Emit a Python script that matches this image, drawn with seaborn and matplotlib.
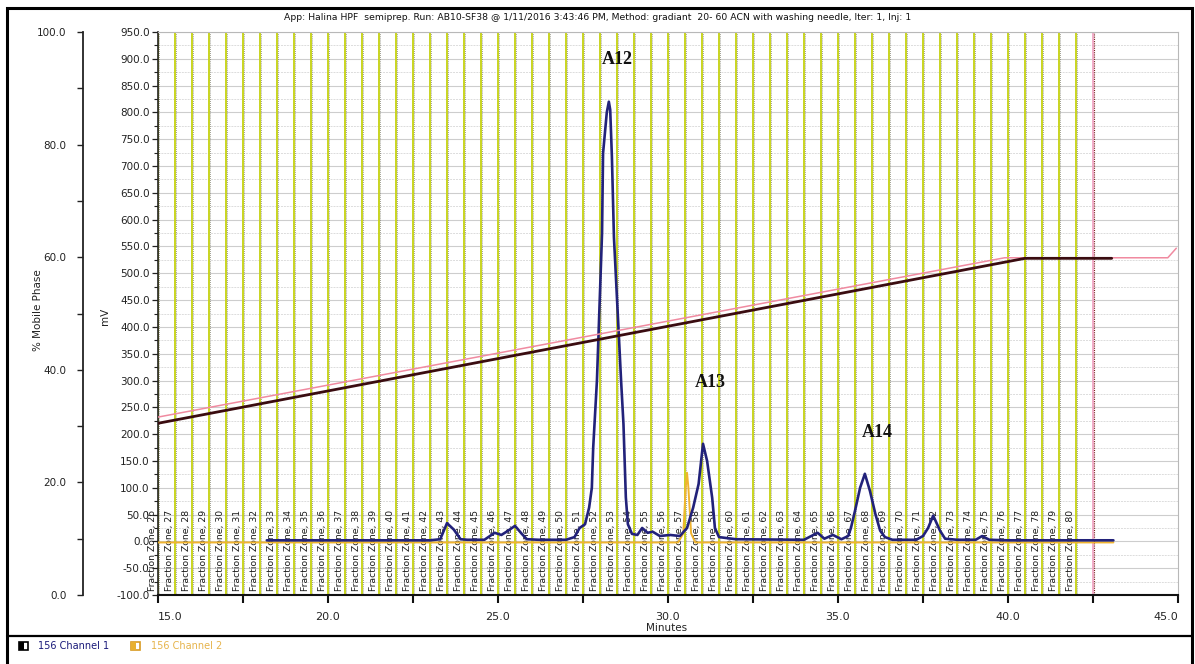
import matplotlib
matplotlib.use('Agg')
import matplotlib.pyplot as plt
import seaborn as sns
import pandas as pd
from matplotlib.patches import Rectangle
from matplotlib.lines import Line2D
from matplotlib.ticker import MultipleLocator, FixedLocator, FuncFormatter

sns.set_style('white')
plt.rcParams['font.family'] = ['DejaVu Sans']

# ---------------- data ----------------
title = ("App: Halina HPF  semiprep. Run: AB10-SF38 @ 1/11/2016 3:43:46 PM, "
         "Method: gradiant  20- 60 ACN with washing needle, Iter: 1, Inj: 1")

ch1_min = [18.2, 23.0, 23.3, 23.5, 23.7, 23.9, 24.1, 24.6, 24.9, 25.1, 25.3,
           25.5, 25.7, 25.85, 26.2, 27.0, 27.25, 27.4, 27.56, 27.68, 27.76,
           27.8, 27.91, 28.06, 28.09, 28.2, 28.26, 28.3, 28.35, 28.41, 28.62,
           28.69, 28.76, 28.82, 28.94, 29.1, 29.24, 29.4, 29.55, 29.76, 30.06,
           30.35, 30.56, 30.74, 30.9, 31.03, 31.15, 31.3, 31.38, 31.5, 32.0,
           34.0, 34.4, 34.6, 34.85, 35.1, 35.3, 35.38, 35.5, 35.65, 35.79,
           35.94, 36.1, 36.24, 36.38, 36.6, 37.3, 37.5, 37.65, 37.8, 38.0,
           38.15, 38.5, 39.05, 39.24, 39.45, 40.0, 43.1]
ch1_mv = [2, 2, 4, 34, 22, 4, 3, 3, 16, 12, 20,
          29, 14, 4, 3, 3, 8, 25, 32, 63, 100,
          175, 300, 575, 724, 800, 820, 805, 717, 567, 300,
          219, 82, 32, 14, 12, 25, 16, 18, 10, 12,
          10, 25, 63, 107, 182, 150, 81, 25, 8, 4,
          3, 16, 5, 12, 4, 10, 25, 57, 100, 126,
          94, 51, 20, 8, 3, 3, 10, 25, 48, 20,
          5, 3, 3, 10, 3, 2, 2]

ch2_min = [15.0, 30.3, 30.45, 30.52, 30.56, 30.6, 30.68, 30.8, 43.1]
ch2_mv = [-2, -2, 15, 100, 128, 100, 15, -2, -2]

grad_actual_min = [15.0, 40.5, 43.05]
grad_actual_pct = [30.5, 59.8, 59.8]
grad_prog_min = [15.0, 39.9, 44.7, 44.95]
grad_prog_pct = [31.6, 59.9, 59.9, 61.6]

zone_numbers = list(range(26, 81))
zone_start_min = 15.0
zone_width_min = 0.5
collection_end_min = 42.5

peak_labels = ['A12', 'A13', 'A14']
peak_label_min = [28.5, 31.24, 36.15]
peak_label_mv = [898, 296, 203]

legend_labels = ['156 Channel 1', '156 Channel 2']

# ---------------- figure ----------------
W, H = 1195, 664
fig = plt.figure(figsize=(W / 100, H / 100), dpi=100)
fig.patch.set_facecolor('white')

def fx(px):
    return px / W

def fy(py):
    return 1 - py / H

ax = fig.add_axes([fx(158), fy(595), fx(1178) - fx(158), fy(32) - fy(595)])
ax.set_xlim(15.0, 45.0)
ax.set_ylim(-100, 950)

# grid
ax.yaxis.set_major_locator(MultipleLocator(50))
ax.yaxis.set_minor_locator(MultipleLocator(25))
ax.yaxis.set_major_formatter(FuncFormatter(lambda v, p: f"{v:.1f}"))
ax.grid(which='major', axis='y', color='#cdcdcd', lw=0.8)
ax.grid(which='minor', axis='y', color='#dcdcdc', lw=0.7, ls=(0, (2, 1)))
ax.grid(which='both', axis='x', visible=False)
ax.set_axisbelow(True)

# fraction zone boundaries
bounds = [zone_start_min + i * zone_width_min for i in range(len(zone_numbers))]
for b in bounds:
    ax.axvline(b, color='#c8d420', lw=1.4, zorder=1)
    ax.axvline(b + 0.035, color='#4a4a30', lw=0.5, ls=(0, (1, 2)), zorder=1)
ax.axvline(collection_end_min, color='#f0a0c0', lw=1.2, zorder=1)
ax.axvline(collection_end_min + 0.02, color='#7a2020', lw=0.8, ls=(0, (1, 1)), zorder=1)

for z, b in zip(zone_numbers, bounds):
    ax.text(b - 0.17, -93, f"Fraction Zone, {z}", rotation=90, ha='center',
            va='bottom', fontsize=6.7, color='#1a1a1a', clip_on=False, zorder=2)

# chromatogram traces
df1 = pd.DataFrame({'min': ch1_min, 'mV': ch1_mv})
df2 = pd.DataFrame({'min': ch2_min, 'mV': ch2_mv})
sns.lineplot(data=df2, x='min', y='mV', ax=ax, color='#f0b430', lw=1.4,
             estimator=None, sort=False, zorder=3)
sns.lineplot(data=df1, x='min', y='mV', ax=ax, color='#22227a', lw=1.9,
             estimator=None, sort=False, zorder=4)

for lab, t, v in zip(peak_labels, peak_label_min, peak_label_mv):
    ax.text(t, v, lab, ha='center', va='center', fontsize=13, fontweight='bold',
            family='Liberation Serif', color='#111111', zorder=6)

# axes styling
ax.set_xlabel('')
ax.set_ylabel('')
for s in ['top', 'right']:
    ax.spines[s].set_color('#b8b8b8')
    ax.spines[s].set_linewidth(0.8)
ax.spines['left'].set_color('#222222')
ax.spines['left'].set_linewidth(1.2)
ax.spines['bottom'].set_color('#111111')
ax.spines['bottom'].set_linewidth(1.5)

ax.xaxis.set_major_locator(FixedLocator([15, 20, 25, 30, 35, 40, 45]))
ax.xaxis.set_minor_locator(FixedLocator([17.5, 22.5, 27.5, 32.5, 37.5, 42.5]))
ax.xaxis.set_major_formatter(FuncFormatter(lambda v, p: f"{v:.1f}"))
ax.tick_params(axis='x', which='both', direction='out', length=6, width=1.5,
               color='#111111', labelsize=8, pad=6, bottom=True)
ax.tick_params(axis='y', which='major', direction='out', length=4, width=0.9,
               labelsize=7.5, pad=2, left=True, colors='#222222')
ax.tick_params(axis='y', which='minor', direction='out', length=3, width=0.8,
               left=True, color='#222222')
fig.canvas.draw()
xl = ax.get_xticklabels()
xl[0].set_horizontalalignment('left')
xl[-1].set_horizontalalignment('right')

# % mobile phase axis
axp = ax.twinx()
axp.set_ylim(0, 100)
axp.yaxis.set_ticks_position('left')
axp.yaxis.set_label_position('left')
axp.spines['left'].set_position(('outward', 54))
axp.spines['left'].set_visible(True)
axp.spines['left'].set_color('#222222')
axp.spines['left'].set_linewidth(1.3)
for s in ['right', 'top', 'bottom']:
    axp.spines[s].set_visible(False)
axp.yaxis.set_major_locator(MultipleLocator(20))
axp.yaxis.set_minor_locator(MultipleLocator(10))
axp.yaxis.set_major_formatter(FuncFormatter(lambda v, p: f"{v:.1f}"))
axp.tick_params(axis='y', which='major', direction='out', length=4, width=1,
                labelsize=7.5, pad=8, colors='#222222')
axp.tick_params(axis='y', which='minor', direction='out', length=4, width=1,
                color='#222222')
axp.grid(False)

dga = pd.DataFrame({'min': grad_actual_min, 'pct': grad_actual_pct})
dgp = pd.DataFrame({'min': grad_prog_min, 'pct': grad_prog_pct})
sns.lineplot(data=dgp, x='min', y='pct', ax=axp, color='#f08aa0', lw=1.1,
             estimator=None, sort=False)
sns.lineplot(data=dga, x='min', y='pct', ax=axp, color='#3a0c10', lw=2.0,
             estimator=None, sort=False)
axp.set_ylabel('')
axp.set_xlabel('')
axp.set_xlim(15.0, 45.0)

# titles and labels
fig.text(0.5, fy(17), title, ha='center', va='center', fontsize=6.7, color='#111111')
fig.text(fx(667), fy(628), 'Minutes', ha='center', va='center', fontsize=7.5, color='#222222')
fig.text(fx(105), fy(316), 'mV', ha='center', va='center', rotation=90, fontsize=7.5, color='#222222')
fig.text(fx(38), fy(310), '% Mobile Phase', ha='center', va='center', rotation=90,
         fontsize=7.5, color='#222222')

# outer frame and legend strip
fig.add_artist(Rectangle((fx(7), fy(670)), fx(1192) - fx(7), fy(8) - fy(670),
                         transform=fig.transFigure, fill=False, lw=2.2, ec='black'))
fig.add_artist(Line2D([fx(7), fx(1192)], [fy(636), fy(636)], transform=fig.transFigure,
                      color='black', lw=1.6))

leg_colors = ['#1a1a7a', '#e6b44c']
icon_x = [19, 131]
text_x = [38, 151]
for lab, c, ix, tx in zip(legend_labels, leg_colors, icon_x, text_x):
    fig.add_artist(Rectangle((fx(ix), fy(650)), fx(9), fy(642) - fy(650),
                             transform=fig.transFigure, fc='white',
                             ec='black' if c == leg_colors[0] else '#d89a20', lw=1.2))
    fig.add_artist(Rectangle((fx(ix), fy(650)), fx(4.5), fy(642) - fy(650),
                             transform=fig.transFigure,
                             fc='black' if c == leg_colors[0] else '#e8b030', lw=0))
    fig.text(fx(tx), fy(646), lab, ha='left', va='center', fontsize=7, color=c)

fig.savefig('out.png', dpi=100, facecolor='white')
